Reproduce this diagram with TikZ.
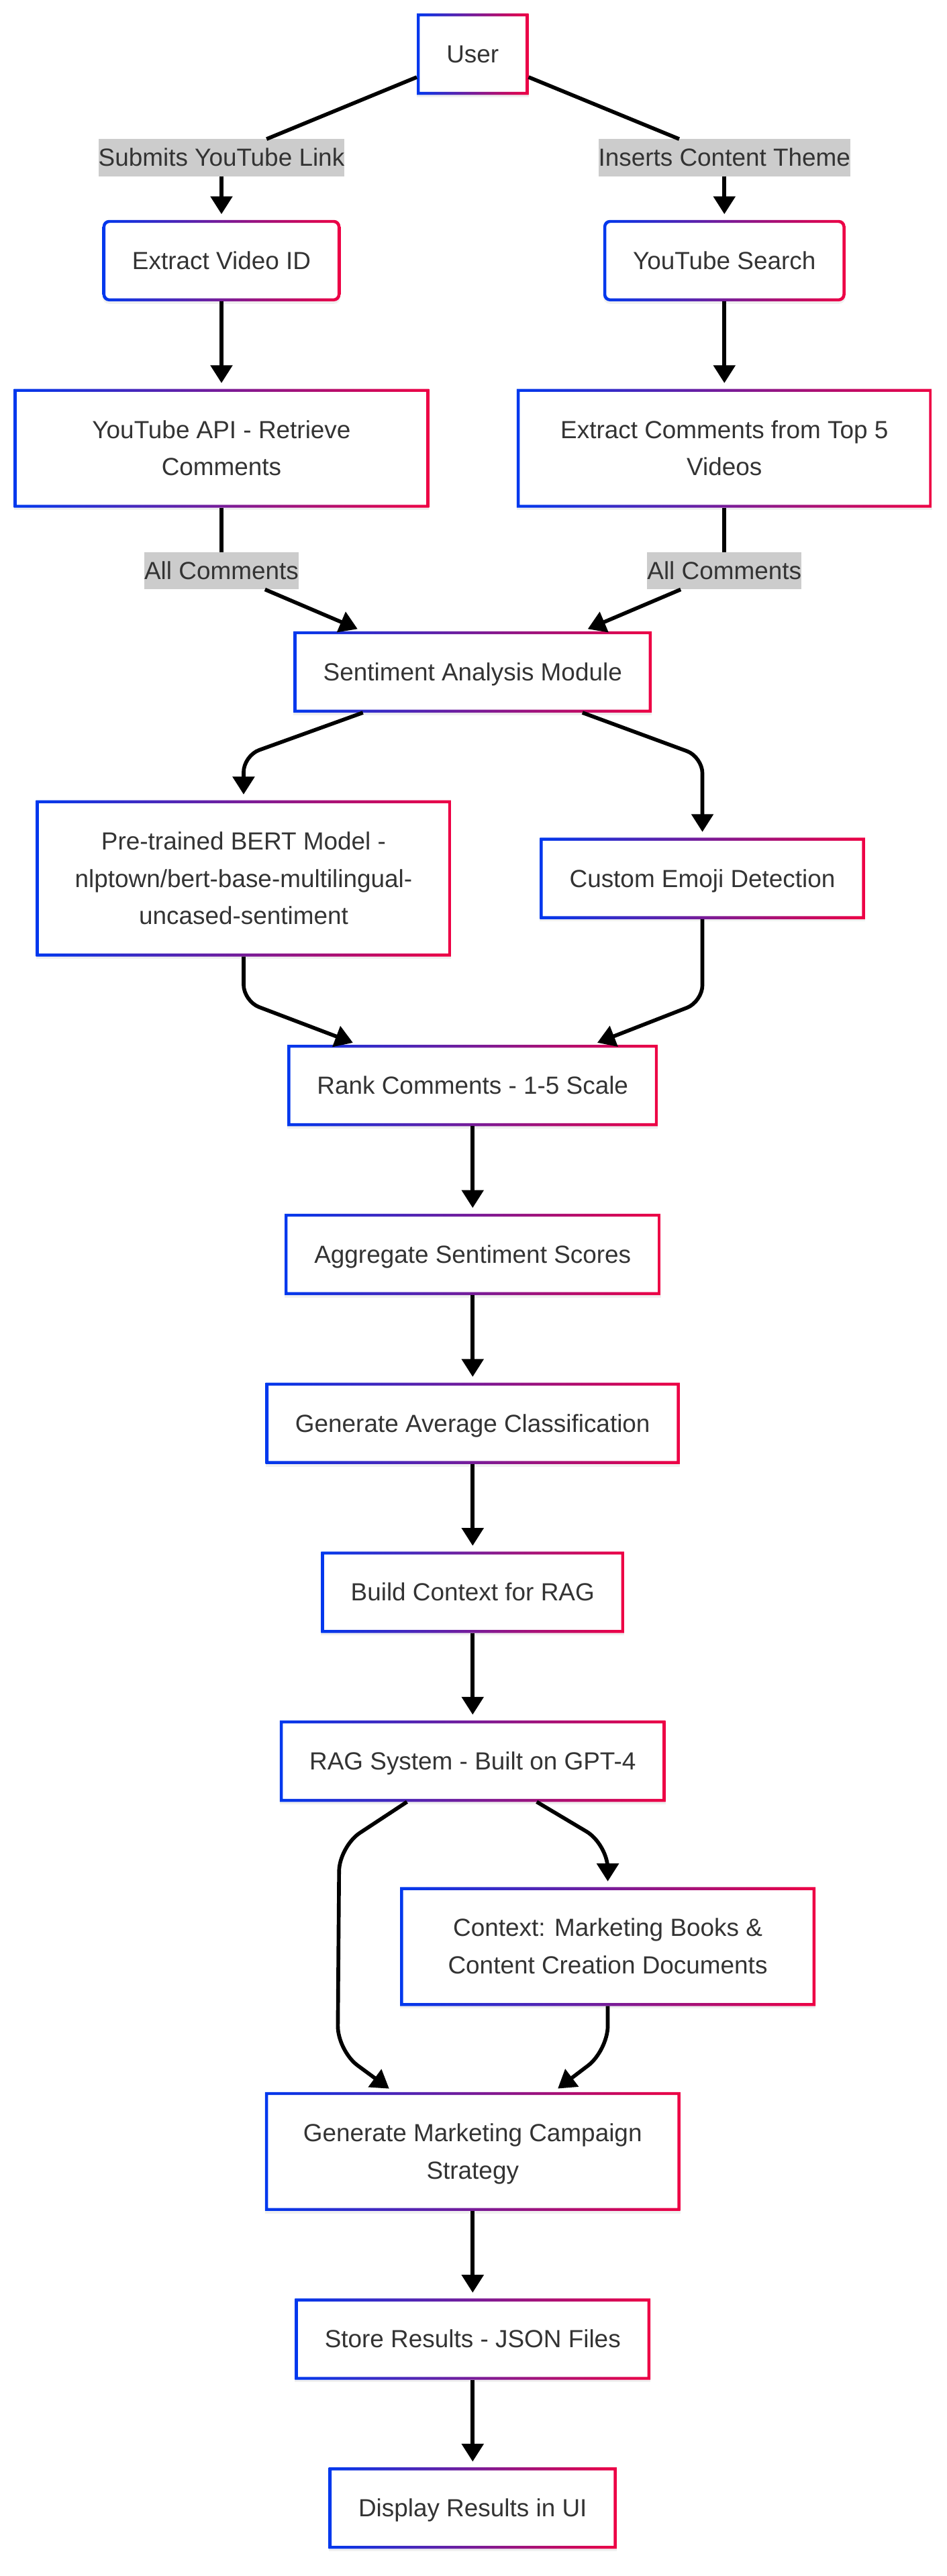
\documentclass[tikz,border=0pt]{standalone}
\usepackage{fontspec}
\setmainfont{Liberation Sans}
\usetikzlibrary{positioning,arrows.meta,shadows}
\definecolor{frameblue}{RGB}{0,56,238}
\definecolor{framered}{RGB}{238,0,68}
\definecolor{labelgray}{RGB}{204,204,204}
\definecolor{textgray}{RGB}{51,51,51}
\newcommand{\lstrut}{\rule[-6pt]{0pt}{22.5pt}}

\begin{document}
\begin{tikzpicture}[x=1pt,y=-1pt,->,>={Triangle[length=10.8pt,width=13pt]},shorten >=3.5pt,line width=2.3pt,
  font=\fontsize{15}{22.7}\selectfont,
  grad frame/.style={fill=white,text=textgray,inner xsep=18pt,inner ysep=13.4pt,outer sep=0pt,
    drop shadow={opacity=0.12,shadow xshift=0pt,shadow yshift=-1.5pt},
    path picture={\shade[left color=frameblue,right color=framered,even odd rule,rounded corners=#1]
      (path picture bounding box.south west) rectangle (path picture bounding box.north east)
      ([shift={(1.8pt,1.8pt)}]path picture bounding box.south west) rectangle ([shift={(-1.8pt,-1.8pt)}]path picture bounding box.north east);}},
  grad frame/.default=0pt,
  main node/.style={grad frame,text height=16.5pt,text depth=6pt},
  round node/.style={grad frame=2.5pt,rounded corners=4pt,text height=16.5pt,text depth=6pt},
  wide node/.style={grad frame,align=center,minimum width=251.5pt},
  link label/.style={fill=labelgray,text=textgray,inner sep=0pt,outer sep=0pt,text height=16.5pt,text depth=6pt}]
  \useasboundingbox (0,0) rectangle (573,1560.1);

  \node[main node] (user) at (286.2,32.8) {User};
  \node[link label] (link) at (134.1,95.45) {Submits YouTube Link};
  \node[link label] (theme) at (438.6,95.45) {Inserts Content Theme};
  \node[round node] (vid) [below=26.5pt of link] {Extract Video ID};
  \node[round node] (search) [below=26.5pt of theme] {YouTube Search};
  \node[wide node] (api) [below=53pt of vid] {\lstrut YouTube API - Retrieve\\\lstrut Comments};
  \node[wide node] (top) [below=53pt of search] {\lstrut Extract Comments from Top 5\\\lstrut Videos};
  \node[link label] (all1) [below=27pt of api] {All Comments};
  \node[link label] (all2) [below=27pt of top] {All Comments};
  \node[main node] (sent) at (286.2,406.95) {Sentiment Analysis Module};
  \node[wide node] (bert) at (147.5,532) {\lstrut Pre-trained BERT Model -\\\lstrut nlptown/bert-base-multilingual-\\\lstrut uncased-sentiment};
  \node[main node] (emoji) at (425.3,532) {Custom Emoji Detection};
  \node[main node] (rank) at (286.2,657.4) {Rank Comments - 1-5 Scale};
  \node[main node] (agg) [below=53pt of rank] {Aggregate Sentiment Scores};
  \node[main node] (avg) [below=53pt of agg] {Generate Average Classification};
  \node[main node] (ctx) [below=53pt of avg] {Build Context for RAG};
  \node[main node] (rag) [below=53pt of ctx] {RAG System - Built on GPT-4};
  \node[wide node] (books) at (368,1178.9) {\lstrut Context: Marketing Books \&\\\lstrut Content Creation Documents};
  \node[wide node] (plan) at (286.2,1303) {\lstrut Generate Marketing Campaign\\\lstrut Strategy};
  \node[main node] (store) [below=53pt of plan] {Store Results - JSON Files};
  \node[main node] (ui) [below=53pt of store] {Display Results in UI};

  \path[-,shorten >=0pt]
    (user) edge (link)
    (user) edge (theme)
    (api) edge (all1)
    (top) edge (all2)
  ;

  \path
    (link) edge (vid)
    (theme) edge (search)
    (vid) edge (api)
    (search) edge (top)
    (rank) edge (agg)
    (agg) edge (avg)
    (avg) edge (ctx)
    (ctx) edge (rag)
    (plan) edge (store)
    (store) edge (ui)
  ;

  \draw (all1) -- ([xshift=42pt]sent.north west);
  \draw (all2) -- ([xshift=-42pt]sent.north east);
  \draw[rounded corners=10pt] ([xshift=42pt]sent.south west) -- ([yshift=27pt]bert.north) -- (bert.north);
  \draw[rounded corners=10pt] ([xshift=-42pt]sent.south east) -- ([yshift=49pt]emoji.north) -- (emoji.north);
  \draw[rounded corners=10pt] (bert.south) -- ([yshift=-27pt]bert.south) -- ([xshift=43pt]rank.north west);
  \draw[rounded corners=10pt] (emoji.south) -- ([yshift=-50pt]emoji.south) -- ([xshift=-40pt]rank.north east);
  \draw[rounded corners=15pt] ([xshift=77pt]rag.south west) -- ([xshift=36pt,yshift=-27pt]rag.south west)
    -- ([xshift=44pt,yshift=25pt]plan.north west) -- ([xshift=78pt]plan.north west);
  \draw[rounded corners=15pt] ([xshift=-78pt]rag.south east) -- ([yshift=26pt]books.north) -- (books.north);
  \draw[rounded corners=15pt] (books.south) -- ([yshift=-27pt]books.south) -- ([xshift=-77pt]plan.north east);
\end{tikzpicture}
\end{document}
